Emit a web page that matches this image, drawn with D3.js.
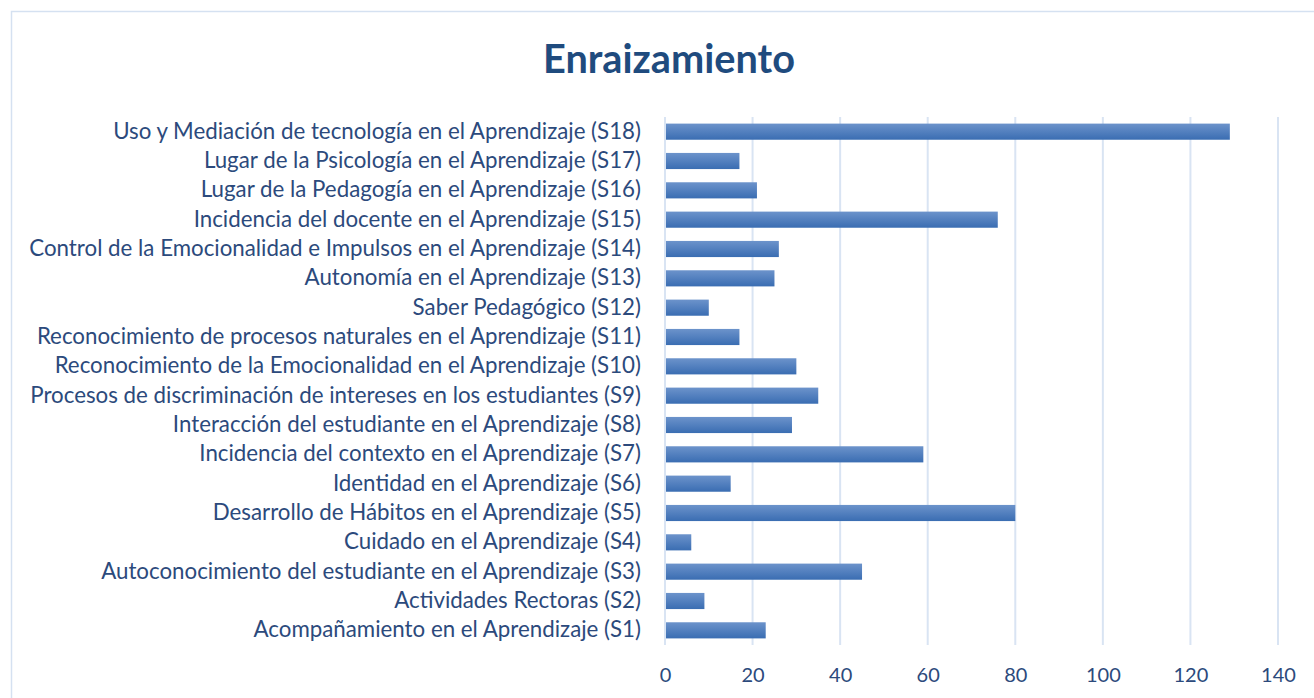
<!DOCTYPE html>
<html><head><meta charset="utf-8">
<script src="https://cdn.jsdelivr.net/npm/d3@7"></script>
<style>body{margin:0;background:#fff}svg{display:block}</style>
</head><body>
<svg id="c" width="1314" height="698"></svg>
<script>
const categories = [
 "Uso y Mediación de tecnología en el Aprendizaje (S18)",
 "Lugar de la Psicología en el Aprendizaje (S17)",
 "Lugar de la Pedagogía en el Aprendizaje (S16)",
 "Incidencia del docente en el Aprendizaje (S15)",
 "Control de la Emocionalidad e Impulsos en el Aprendizaje (S14)",
 "Autonomía en el Aprendizaje (S13)",
 "Saber Pedagógico (S12)",
 "Reconocimiento de procesos naturales en el Aprendizaje (S11)",
 "Reconocimiento de la Emocionalidad en el Aprendizaje (S10)",
 "Procesos de discriminación de intereses en los estudiantes (S9)",
 "Interacción del estudiante en el Aprendizaje (S8)",
 "Incidencia del contexto en el Aprendizaje (S7)",
 "Identidad en el Aprendizaje (S6)",
 "Desarrollo de Hábitos en el Aprendizaje (S5)",
 "Cuidado en el Aprendizaje (S4)",
 "Autoconocimiento del estudiante en el Aprendizaje (S3)",
 "Actividades Rectoras (S2)",
 "Acompañamiento en el Aprendizaje (S1)"
];
const values = [129,17,21,76,26,25,10,17,30,35,29,59,15,80,6,45,9,23];
const xTicks = [0,20,40,60,80,100,120,140];
const title = "Enraizamiento";

const svg = d3.select("#c");
const font = "Lato, 'Open Sans', sans-serif";
const txtColor = "#2c4a7c";

const defs = svg.append("defs");
const g = defs.append("linearGradient").attr("id","bg").attr("x1",0).attr("y1",0).attr("x2",0).attr("y2",1);
g.append("stop").attr("offset","0%").attr("stop-color","#6c93cb");
g.append("stop").attr("offset","100%").attr("stop-color","#3a6db2");

svg.append("rect").attr("x",11.5).attr("y",11.5).attr("width",1320).attr("height",700)
  .attr("fill","#fff").attr("stroke","#d5e1f1").attr("stroke-width",1.5);

const t = svg.append("text").attr("x",669).attr("y",73).attr("text-anchor","middle")
  .attr("font-family",font).attr("font-weight","bold").attr("font-size",36)
  .attr("fill","#1f4b7e").text(title);
t.attr("font-size", 36*252/t.node().getComputedTextLength());

const x = d3.scaleLinear().domain([0,140]).range([665,1278]);
const y = d3.scaleBand().domain(categories).range([117,645]).paddingInner(0.45).paddingOuter(0.225);

svg.append("g").selectAll("line").data(xTicks).join("line")
  .attr("x1",d=>x(d)).attr("x2",d=>x(d)).attr("y1",117).attr("y2",645)
  .attr("stroke","#d9e4f3").attr("stroke-width",2);

svg.append("g").selectAll("rect").data(values).join("rect")
  .attr("x",x(0)+1).attr("y",(d,i)=>y(categories[i]))
  .attr("width",d=>x(d)-x(0)-1).attr("height",y.bandwidth())
  .attr("fill","url(#bg)");

const yAxis = svg.append("g").attr("transform","translate(641,0)")
  .call(d3.axisLeft(y).tickSize(0).tickPadding(0));
yAxis.select(".domain").remove();
yAxis.selectAll("text").attr("font-family",font).attr("font-size",18).attr("fill",txtColor);

const xAxis = svg.append("g").attr("transform","translate(0,668)")
  .call(d3.axisBottom(x).tickValues(xTicks).tickSize(0).tickPadding(0));
xAxis.select(".domain").remove();
xAxis.selectAll("text").attr("font-family",font).attr("font-size",20).attr("fill",txtColor).attr("dy","0.71em");

// fit label widths to target (longest label spans ~612px)
const longest = yAxis.selectAll("text").nodes().reduce((m,n)=>Math.max(m,n.getComputedTextLength()),0);
const fs = 18*612/longest;
yAxis.selectAll("text").attr("font-size",fs);
</script>
</body></html>
